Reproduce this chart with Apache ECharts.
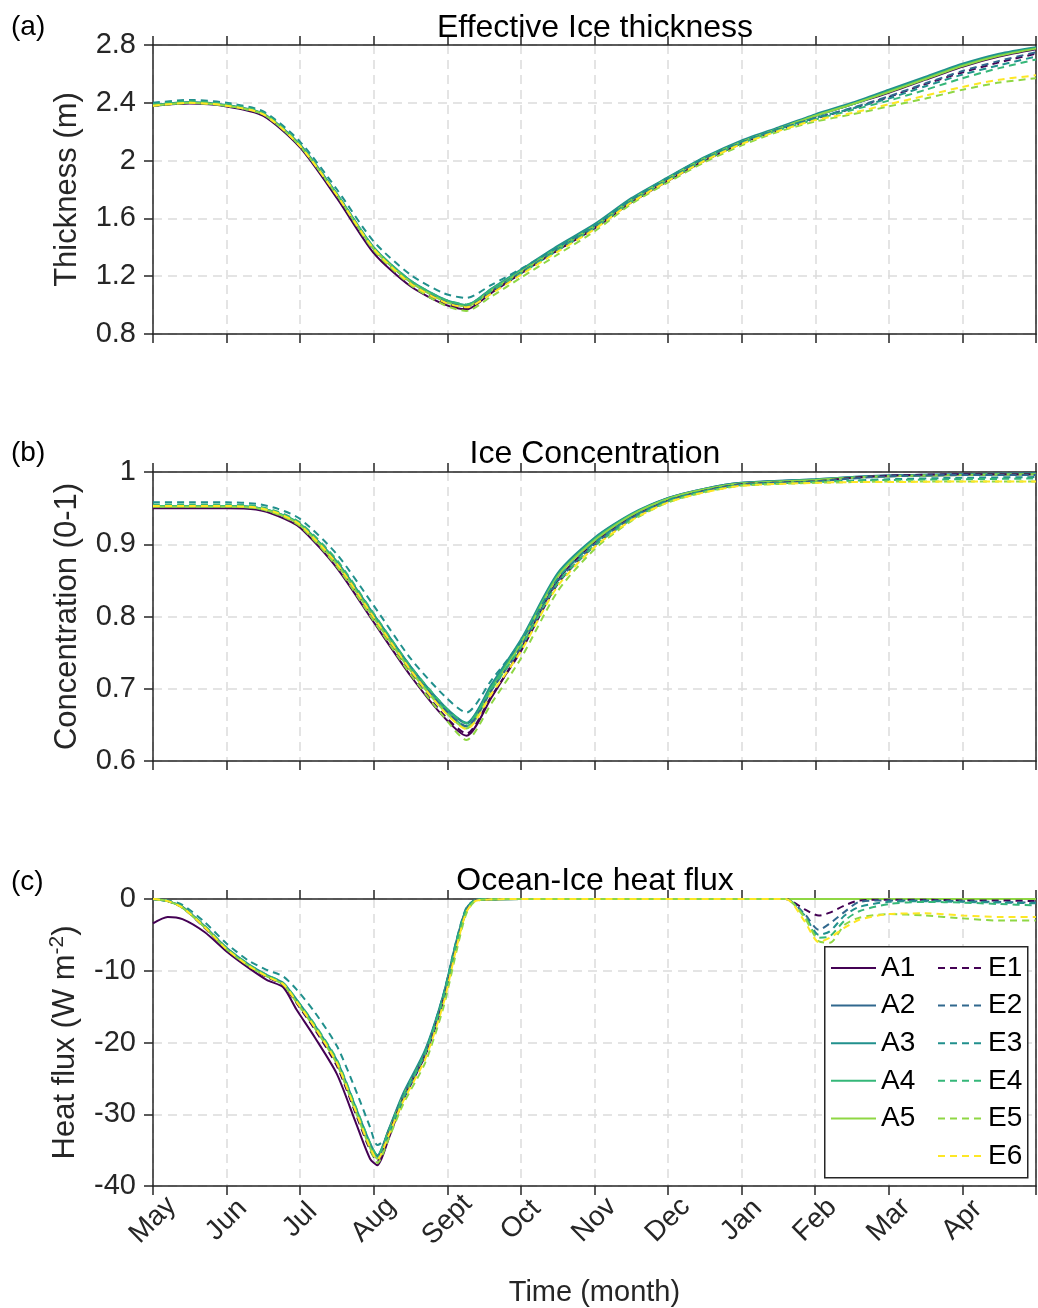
<!DOCTYPE html>
<html>
<head>
<meta charset="utf-8">
<title>Ice thickness, concentration and heat flux</title>
<script src="https://cdn.jsdelivr.net/npm/echarts@6/dist/echarts.min.js"></script>
<style>
  html, body { margin: 0; padding: 0; background: #fff; }
  #chart { width: 1038px; height: 1308px; }
</style>
</head>
<body>
<div id="chart"></div>
<script>
// month labels, x is in months since 1 May
const months = ['May', 'Jun', 'Jul', 'Aug', 'Sept', 'Oct', 'Nov', 'Dec', 'Jan', 'Feb', 'Mar', 'Apr']
const runNames = ['A1', 'A2', 'A3', 'A4', 'A5', 'E1', 'E2', 'E3', 'E4', 'E5', 'E6']
const runColors = ['#440154', '#31688e', '#21908d', '#35b779', '#8fd744',
  '#440154', '#31688e', '#21908d', '#35b779', '#8fd744', '#fde725']

// (a) effective ice thickness (m)
const xThick = [0, 0.5, 1, 1.5, 2, 2.5, 3, 3.5, 3.96, 4.26, 4.6, 5, 5.5, 6, 6.5, 7, 7.5, 8, 8.5, 9, 9.5, 10, 10.5, 11, 11.5, 12]
const thickA1 = [2.38, 2.395, 2.375, 2.31, 2.09, 1.74, 1.36, 1.13, 1.005, 0.97, 1.085, 1.22, 1.38, 1.53, 1.71, 1.86, 2.00, 2.12, 2.22, 2.31, 2.39, 2.47, 2.56, 2.65, 2.72, 2.77]
const thickA2 = [2.38, 2.40, 2.38, 2.32, 2.10, 1.76, 1.39, 1.16, 1.03, 0.995, 1.105, 1.235, 1.40, 1.55, 1.73, 1.88, 2.02, 2.13, 2.22, 2.31, 2.39, 2.48, 2.57, 2.66, 2.73, 2.78]
const thickA3 = [2.385, 2.405, 2.385, 2.325, 2.11, 1.77, 1.40, 1.17, 1.04, 1.00, 1.115, 1.245, 1.41, 1.56, 1.74, 1.885, 2.025, 2.14, 2.23, 2.32, 2.40, 2.49, 2.58, 2.67, 2.74, 2.785]
const thickA4 = [2.38, 2.40, 2.38, 2.32, 2.10, 1.765, 1.395, 1.165, 1.035, 1.00, 1.11, 1.24, 1.40, 1.55, 1.73, 1.88, 2.02, 2.13, 2.22, 2.31, 2.39, 2.48, 2.57, 2.66, 2.73, 2.78]
const thickA5 = [2.38, 2.40, 2.38, 2.32, 2.10, 1.76, 1.39, 1.16, 1.025, 0.99, 1.10, 1.23, 1.39, 1.545, 1.725, 1.875, 2.015, 2.13, 2.22, 2.31, 2.39, 2.475, 2.565, 2.655, 2.725, 2.775]
const thickE1 = [2.38, 2.40, 2.38, 2.315, 2.095, 1.75, 1.37, 1.14, 1.015, 0.98, 1.09, 1.22, 1.38, 1.535, 1.715, 1.865, 2.005, 2.12, 2.21, 2.29, 2.36, 2.44, 2.53, 2.61, 2.68, 2.74]
const thickE2 = [2.38, 2.40, 2.38, 2.32, 2.10, 1.76, 1.38, 1.15, 1.025, 0.99, 1.10, 1.225, 1.385, 1.54, 1.72, 1.87, 2.01, 2.125, 2.215, 2.295, 2.365, 2.445, 2.535, 2.62, 2.69, 2.75]
const thickE3 = [2.40, 2.42, 2.40, 2.34, 2.13, 1.80, 1.44, 1.21, 1.08, 1.05, 1.14, 1.25, 1.40, 1.55, 1.73, 1.88, 2.02, 2.13, 2.22, 2.295, 2.36, 2.43, 2.515, 2.595, 2.66, 2.72]
const thickE4 = [2.39, 2.41, 2.39, 2.33, 2.11, 1.77, 1.40, 1.17, 1.04, 1.005, 1.10, 1.22, 1.38, 1.535, 1.715, 1.865, 2.005, 2.12, 2.21, 2.285, 2.35, 2.415, 2.49, 2.57, 2.64, 2.70]
const thickE5 = [2.38, 2.40, 2.38, 2.32, 2.10, 1.76, 1.38, 1.14, 1.00, 0.96, 1.06, 1.19, 1.35, 1.51, 1.70, 1.85, 1.99, 2.105, 2.20, 2.27, 2.32, 2.375, 2.43, 2.49, 2.54, 2.57]
const thickE6 = [2.38, 2.40, 2.38, 2.32, 2.10, 1.76, 1.39, 1.15, 1.02, 0.985, 1.08, 1.21, 1.37, 1.525, 1.71, 1.86, 2.00, 2.115, 2.205, 2.28, 2.33, 2.39, 2.45, 2.51, 2.56, 2.59]

// (b) ice concentration (0-1)
const xConc = [0, 0.5, 1, 1.4, 1.7, 2, 2.5, 3, 3.5, 3.96, 4.26, 4.6, 5, 5.5, 6, 6.5, 7, 7.5, 8, 9, 9.5, 10, 11, 12]
const concA1 = [0.950, 0.950, 0.950, 0.948, 0.939, 0.923, 0.867, 0.792, 0.718, 0.660, 0.635, 0.688, 0.755, 0.850, 0.903, 0.938, 0.962, 0.975, 0.983, 0.989, 0.992, 0.994, 0.996, 0.997]
const concA2 = [0.952, 0.952, 0.952, 0.950, 0.942, 0.927, 0.875, 0.802, 0.730, 0.675, 0.652, 0.704, 0.766, 0.858, 0.908, 0.941, 0.964, 0.977, 0.985, 0.990, 0.993, 0.995, 0.997, 0.998]
const concA3 = [0.953, 0.953, 0.953, 0.951, 0.943, 0.928, 0.876, 0.803, 0.731, 0.676, 0.653, 0.706, 0.768, 0.860, 0.909, 0.942, 0.964, 0.977, 0.985, 0.990, 0.993, 0.995, 0.997, 0.998]
const concA4 = [0.953, 0.953, 0.953, 0.951, 0.943, 0.928, 0.875, 0.801, 0.728, 0.672, 0.648, 0.702, 0.765, 0.857, 0.907, 0.941, 0.963, 0.976, 0.984, 0.989, 0.992, 0.994, 0.996, 0.997]
const concA5 = [0.952, 0.952, 0.952, 0.950, 0.942, 0.926, 0.872, 0.798, 0.725, 0.669, 0.645, 0.698, 0.762, 0.855, 0.905, 0.940, 0.963, 0.976, 0.984, 0.989, 0.992, 0.994, 0.996, 0.997]
const concE1 = [0.952, 0.952, 0.952, 0.950, 0.941, 0.925, 0.870, 0.795, 0.721, 0.663, 0.638, 0.690, 0.752, 0.845, 0.898, 0.935, 0.960, 0.974, 0.983, 0.987, 0.992, 0.995, 0.997, 0.997]
const concE2 = [0.953, 0.953, 0.953, 0.951, 0.943, 0.928, 0.875, 0.801, 0.728, 0.672, 0.648, 0.698, 0.758, 0.848, 0.900, 0.936, 0.960, 0.974, 0.983, 0.987, 0.991, 0.994, 0.996, 0.996]
const concE3 = [0.958, 0.958, 0.958, 0.956, 0.949, 0.935, 0.886, 0.815, 0.742, 0.690, 0.667, 0.712, 0.765, 0.852, 0.902, 0.937, 0.961, 0.974, 0.982, 0.986, 0.988, 0.990, 0.992, 0.993]
const concE4 = [0.955, 0.955, 0.955, 0.953, 0.945, 0.930, 0.878, 0.804, 0.731, 0.676, 0.652, 0.700, 0.757, 0.846, 0.898, 0.934, 0.959, 0.973, 0.982, 0.986, 0.988, 0.989, 0.990, 0.991]
const concE5 = [0.952, 0.952, 0.952, 0.950, 0.941, 0.925, 0.869, 0.794, 0.720, 0.660, 0.629, 0.680, 0.742, 0.835, 0.893, 0.932, 0.958, 0.972, 0.981, 0.985, 0.986, 0.987, 0.987, 0.987]
const concE6 = [0.953, 0.953, 0.953, 0.951, 0.943, 0.927, 0.873, 0.799, 0.726, 0.668, 0.644, 0.693, 0.752, 0.842, 0.896, 0.933, 0.958, 0.972, 0.981, 0.985, 0.986, 0.986, 0.987, 0.987]

// (c) ocean-ice heat flux (W m-2)
const xFlux = [0, 0.2, 0.4, 0.7, 1.0, 1.3, 1.55, 1.77, 1.95, 2.2, 2.5, 2.75, 2.95, 3.05, 3.2, 3.4, 3.7, 3.95, 4.12, 4.26, 4.4, 5,
  8, 8.6, 8.85, 9.05, 9.2, 9.4, 9.6, 10, 10.5, 11, 11.5, 12]
const fluxA1 = [-3.4, -2.5, -2.8, -4.6, -7.3, -9.6, -11.3, -12.3, -15.4, -19.3, -24.4, -31.0, -36.2, -37.1, -33.5, -28.0, -21.8, -14.0, -6.6, -1.6, -0.1, 0,
  0, 0, 0, 0, 0, 0, 0, 0, 0, 0, 0, 0]
const fluxA2 = [0, -0.3, -1.1, -3.8, -6.9, -9.2, -10.7, -11.8, -14.2, -17.8, -22.8, -29.2, -34.3, -35.9, -32.3, -27.3, -21.2, -13.4, -6.2, -1.4, -0.1, 0,
  0, 0, 0, 0, 0, 0, 0, 0, 0, 0, 0, 0]
const fluxA3 = [0, -0.3, -1.1, -3.8, -6.8, -9.1, -10.6, -11.7, -14.0, -17.6, -22.5, -28.9, -34.0, -35.7, -32.2, -27.1, -21.0, -13.2, -6.0, -1.3, -0.1, 0,
  0, 0, 0, 0, 0, 0, 0, 0, 0, 0, 0, 0]
const fluxA4 = [0, -0.3, -1.2, -3.9, -7.0, -9.3, -10.8, -11.9, -14.3, -17.9, -22.9, -29.3, -34.5, -36.1, -32.4, -27.4, -21.3, -13.5, -6.3, -1.5, -0.1, 0,
  0, 0, 0, 0, 0, 0, 0, 0, 0, 0, 0, 0]
const fluxA5 = [0, -0.3, -1.2, -3.9, -7.0, -9.3, -10.8, -11.9, -14.4, -18.0, -23.0, -29.5, -34.7, -36.2, -32.6, -27.6, -21.5, -13.7, -6.5, -1.6, -0.1, 0,
  0, 0, 0, 0, 0, 0, 0, 0, 0, 0, 0, 0]
const fluxE1 = [0, -0.3, -1.2, -4.0, -7.1, -9.4, -10.9, -12.0, -14.5, -18.2, -23.3, -29.8, -35.0, -36.5, -32.8, -27.8, -21.7, -13.9, -6.6, -1.7, -0.1, 0,
  0, 0, -1.4, -2.3, -1.9, -0.9, -0.2, -0.1, -0.1, -0.2, -0.2, -0.3]
const fluxE2 = [0, -0.3, -1.1, -3.8, -6.9, -9.2, -10.7, -11.8, -14.3, -17.9, -22.9, -29.3, -34.4, -36.0, -32.4, -27.4, -21.4, -13.6, -6.3, -1.5, -0.1, 0,
  0, 0, -2.0, -4.3, -3.4, -1.8, -0.4, -0.2, -0.2, -0.3, -0.4, -0.5]
const fluxE3 = [0, -0.2, -0.8, -3.2, -6.2, -8.6, -9.9, -10.8, -12.6, -15.8, -20.5, -26.5, -31.8, -34.3, -33.0, -27.9, -21.4, -13.2, -5.9, -1.2, -0.1, 0,
  0, 0, -2.2, -5.0, -4.5, -2.3, -1.1, -0.4, -0.3, -0.4, -0.5, -0.6]
const fluxE4 = [0, -0.3, -1.1, -3.7, -6.8, -9.1, -10.6, -11.7, -14.0, -17.5, -22.4, -28.8, -34.0, -35.8, -32.5, -27.6, -21.5, -13.6, -6.3, -1.5, -0.1, 0,
  0, 0, -2.3, -5.4, -5.2, -3.0, -1.7, -0.7, -0.4, -0.5, -0.7, -0.9]
const fluxE5 = [0, -0.3, -1.2, -3.9, -7.0, -9.3, -10.8, -11.9, -14.3, -17.8, -22.8, -29.4, -34.8, -36.8, -33.5, -28.6, -22.8, -15.0, -7.5, -2.0, -0.2, 0,
  0, 0, -2.5, -5.9, -6.1, -3.6, -2.6, -2.1, -2.3, -2.7, -3.0, -3.0]
const fluxE6 = [0, -0.3, -1.2, -3.9, -7.0, -9.3, -10.8, -11.9, -14.3, -17.9, -22.9, -29.4, -34.6, -36.3, -33.0, -28.2, -22.3, -14.5, -7.0, -1.8, -0.2, 0,
  0, 0, -3.0, -6.0, -5.4, -4.0, -2.9, -2.1, -2.0, -2.3, -2.5, -2.5]

const thickRuns = [thickA1, thickA2, thickA3, thickA4, thickA5, thickE1, thickE2, thickE3, thickE4, thickE5, thickE6]
const concRuns = [concA1, concA2, concA3, concA4, concA5, concE1, concE2, concE3, concE4, concE5, concE6]
const fluxRuns = [fluxA1, fluxA2, fluxA3, fluxA4, fluxA5, fluxE1, fluxE2, fluxE3, fluxE4, fluxE5, fluxE6]

const font = '"Liberation Sans", Arial, Helvetica, sans-serif'
const axisColor = '#262626'
const gridLine = { color: '#dcdcdc', width: 1.5, type: [9, 6] }

const panels = [
  { top: 45, height: 289, min: 0.8, max: 2.8, interval: 0.4, name: 'Thickness (m)', x: xThick, runs: thickRuns },
  { top: 472, height: 289, min: 0.6, max: 1, interval: 0.1, name: 'Concentration (0-1)', x: xConc, runs: concRuns },
  { top: 899, height: 288, min: -40, max: 0, interval: 10, name: '{t|Heat flux (W m}{s|-2}{t|)}', x: xFlux, runs: fluxRuns }
]

const chart = echarts.init(document.getElementById('chart'), null, { renderer: 'canvas' })

const grid = []
const xAxis = []
const yAxis = []
const series = []

panels.forEach((p, pi) => {
  const isLast = pi === panels.length - 1
  grid.push({ left: 153, right: 2, top: p.top, height: p.height, containLabel: false })
  // bottom axis
  xAxis.push({
    type: 'value',
    gridIndex: pi,
    min: 0,
    max: 12,
    interval: 1,
    position: 'bottom',
    axisLine: { show: true, onZero: false, lineStyle: { color: axisColor, width: 1.5 } },
    axisTick: { show: true, inside: false, length: 9, lineStyle: { color: axisColor, width: 1.5 } },
    axisLabel: isLast ? {
      show: true,
      rotate: 45,
      margin: 34,
      align: 'center',
      verticalAlign: 'middle',
      fontSize: 28,
      fontFamily: font,
      color: axisColor,
      formatter: v => months[Math.round(v)] || ''
    } : { show: false },
    splitLine: { show: true, lineStyle: gridLine },
    name: isLast ? 'Time (month)' : '',
    nameLocation: 'middle',
    nameGap: 92,
    nameTextStyle: { fontSize: 29, fontFamily: font, color: axisColor }
  })
  // top axis, ticks only (box)
  xAxis.push({
    type: 'value',
    gridIndex: pi,
    min: 0,
    max: 12,
    interval: 1,
    position: 'top',
    axisLine: { show: true, onZero: false, lineStyle: { color: axisColor, width: 1.5 } },
    axisTick: { show: true, inside: false, length: 9, lineStyle: { color: axisColor, width: 1.5 } },
    axisLabel: { show: false },
    splitLine: { show: false }
  })
  yAxis.push({
    type: 'value',
    gridIndex: pi,
    min: p.min,
    max: p.max,
    interval: p.interval,
    position: 'left',
    axisLine: { show: true, onZero: false, lineStyle: { color: axisColor, width: 1.5 } },
    axisTick: { show: true, inside: false, length: 9, lineStyle: { color: axisColor, width: 1.5 } },
    axisLabel: { fontSize: 29, fontFamily: font, color: axisColor, margin: 17 },
    splitLine: { show: true, lineStyle: gridLine },
    name: p.name,
    nameLocation: 'middle',
    nameGap: 70,
    nameTextStyle: {
      fontSize: 31,
      fontFamily: font,
      color: axisColor,
      rich: {
        t: { fontSize: 31, fontFamily: font, color: axisColor, lineHeight: 36 },
        s: { fontSize: 21, fontFamily: font, color: axisColor, verticalAlign: 'top', lineHeight: 21 }
      }
    }
  })
  yAxis.push({
    type: 'value',
    gridIndex: pi,
    min: p.min,
    max: p.max,
    interval: p.interval,
    position: 'right',
    axisLine: { show: true, onZero: false, lineStyle: { color: axisColor, width: 1.5 } },
    axisTick: { show: false },
    axisLabel: { show: false },
    splitLine: { show: false }
  })
  p.runs.forEach((ys, i) => {
    series.push({
      name: runNames[i],
      type: 'line',
      xAxisIndex: pi * 2,
      yAxisIndex: pi * 2,
      data: p.x.map((x, k) => [x, ys[k]]),
      symbol: 'none',
      smooth: 0.25,
      itemStyle: { color: runColors[i] },
      lineStyle: { color: runColors[i], width: 2, type: i >= 5 ? [7, 5] : 'solid' },
      emphasis: { disabled: true }
    })
  })
})

const legendBase = {
  orient: 'vertical',
  top: 954,
  itemWidth: 45,
  itemHeight: 14,
  itemGap: 9.6,
  selectedMode: false,
  z: 10,
  padding: 0,
  // hide the circle ECharts adds to line-series icons, keep the (dashed) line
  itemStyle: { opacity: 0 },
  textStyle: { fontSize: 28, lineHeight: 28, fontFamily: font, color: '#000' }
}

chart.setOption({
  animation: false,
  backgroundColor: '#fff',
  title: [
    { text: 'Effective Ice thickness', top: 12 },
    { text: 'Ice Concentration', top: 438 },
    { text: 'Ocean-Ice heat flux', top: 865 }
  ].map(t => Object.assign(t, {
    left: 595,
    textAlign: 'center',
    padding: 0,
    textStyle: { fontSize: 32, fontWeight: 'normal', fontFamily: font, color: '#000' }
  })),
  grid: grid,
  xAxis: xAxis,
  yAxis: yAxis,
  legend: [
    Object.assign({}, legendBase, { left: 830, data: runNames.slice(0, 5) }),
    Object.assign({}, legendBase, { left: 937, data: runNames.slice(5) })
  ],
  graphic: [
    {
      type: 'rect',
      left: 824,
      top: 946,
      z: 5,
      shape: { width: 203, height: 231 },
      style: { fill: '#fff', stroke: axisColor, lineWidth: 1.5 }
    },
    { type: 'text', left: 11, top: 13, style: { text: '(a)', fontSize: 28, fontFamily: font, fill: '#000' } },
    { type: 'text', left: 11, top: 439, style: { text: '(b)', fontSize: 28, fontFamily: font, fill: '#000' } },
    { type: 'text', left: 11, top: 868, style: { text: '(c)', fontSize: 28, fontFamily: font, fill: '#000' } }
  ],
  series: series
})
</script>
</body>
</html>
